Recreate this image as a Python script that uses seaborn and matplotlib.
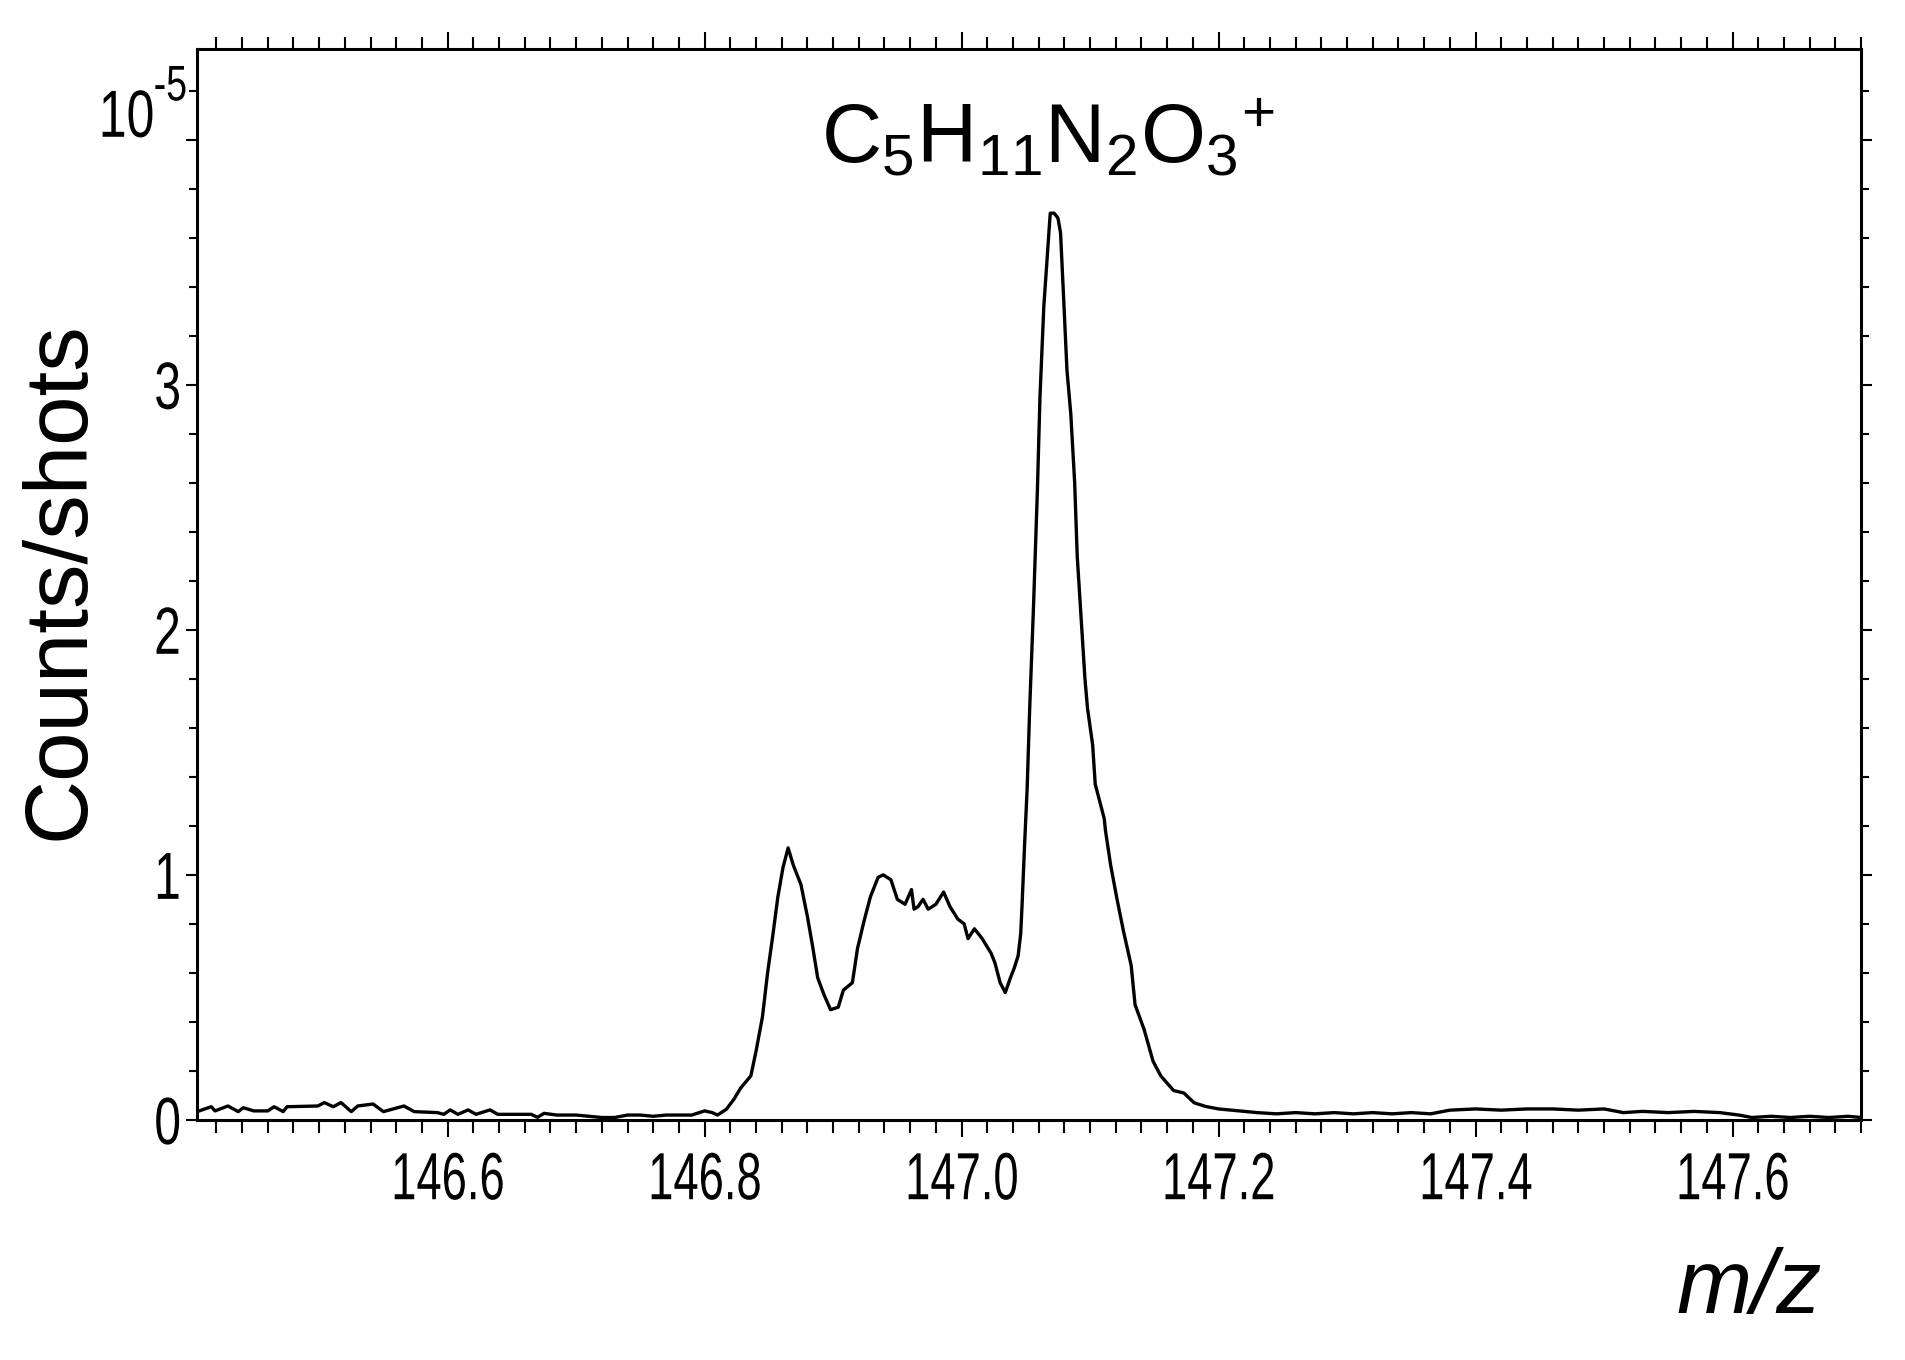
import numpy as np
import pandas as pd
import seaborn as sns
import matplotlib.pyplot as plt
from matplotlib.ticker import MultipleLocator
from matplotlib.patheffects import AbstractPathEffect
from matplotlib.transforms import Affine2D

# m/z axis values
mz = [146.405, 146.416, 146.419, 146.429, 146.437, 146.441, 146.449, 146.460, 146.465,
      146.472, 146.475, 146.499, 146.504, 146.511, 146.517, 146.525, 146.530, 146.542,
      146.550, 146.566, 146.574, 146.592, 146.597, 146.602, 146.608, 146.616, 146.622,
      146.633, 146.639, 146.665, 146.670, 146.675, 146.685, 146.700, 146.710, 146.720,
      146.730, 146.740, 146.750, 146.760, 146.770, 146.780, 146.790, 146.800, 146.806,
      146.810, 146.817,
      146.823, 146.828, 146.836, 146.840, 146.845, 146.849, 146.853, 146.857, 146.861,
      146.865, 146.869, 146.875, 146.880, 146.884, 146.888, 146.893, 146.898, 146.904,
      146.908, 146.915, 146.919, 146.924, 146.929, 146.935, 146.939, 146.945, 146.950,
      146.956, 146.961, 146.963, 146.966, 146.970, 146.974, 146.980, 146.986, 146.991,
      146.997, 147.002, 147.005, 147.010, 147.016, 147.023, 147.026, 147.030, 147.034,
      147.038, 147.041, 147.044, 147.046, 147.047, 147.049, 147.051, 147.053, 147.056,
      147.059, 147.061, 147.064, 147.067, 147.069, 147.072, 147.075, 147.077, 147.079,
      147.082, 147.085, 147.088, 147.090, 147.093, 147.096, 147.098, 147.102, 147.104,
      147.107, 147.111, 147.112, 147.116, 147.121, 147.126, 147.132, 147.135, 147.142,
      147.149, 147.155, 147.165, 147.173, 147.181,
      147.190, 147.200, 147.210, 147.220, 147.230, 147.245, 147.260, 147.275, 147.290,
      147.305, 147.320, 147.335, 147.350, 147.365, 147.380, 147.400, 147.420, 147.440,
      147.460, 147.480, 147.500, 147.515, 147.530, 147.550, 147.570, 147.590, 147.605,
      147.615, 147.630, 147.645, 147.660, 147.675, 147.690, 147.700]

# counts/shots in units of 1e-5
counts = [0.034, 0.054, 0.037, 0.057, 0.034, 0.050, 0.037, 0.037, 0.054,
          0.034, 0.054, 0.057, 0.071, 0.054, 0.071, 0.034, 0.057, 0.065,
          0.034, 0.057, 0.034, 0.030, 0.023, 0.041, 0.023, 0.041, 0.023,
          0.041, 0.023, 0.023, 0.011, 0.027, 0.020, 0.020, 0.015, 0.010,
          0.010, 0.020, 0.020, 0.015, 0.020, 0.020, 0.020, 0.037, 0.030,
          0.020, 0.044,
          0.086, 0.13, 0.18, 0.28, 0.42, 0.60, 0.75, 0.91, 1.03,
          1.11, 1.04, 0.96, 0.83, 0.71, 0.58, 0.51, 0.45, 0.46,
          0.53, 0.56, 0.70, 0.81, 0.91, 0.99, 1.00, 0.98, 0.90,
          0.88, 0.94, 0.86, 0.87, 0.90, 0.86, 0.88, 0.93, 0.87,
          0.82, 0.80, 0.74, 0.78, 0.74, 0.68, 0.64, 0.56, 0.52,
          0.58, 0.62, 0.67, 0.76, 0.87, 1.12, 1.35, 1.68, 2.10,
          2.57, 2.95, 3.32, 3.55, 3.70, 3.70, 3.68, 3.62, 3.40,
          3.06, 2.88, 2.60, 2.30, 2.05, 1.80, 1.68, 1.53, 1.37,
          1.31, 1.23, 1.18, 1.04, 0.90, 0.77, 0.63, 0.47, 0.37,
          0.24, 0.18, 0.12, 0.11, 0.07,
          0.055, 0.045, 0.040, 0.035, 0.030, 0.025, 0.030, 0.025, 0.030,
          0.025, 0.030, 0.025, 0.030, 0.025, 0.040, 0.045, 0.040, 0.045,
          0.045, 0.040, 0.045, 0.030, 0.035, 0.030, 0.035, 0.030, 0.020,
          0.010, 0.015, 0.010, 0.015, 0.010, 0.015, 0.010]

xtick_values = [146.6, 146.8, 147.0, 147.2, 147.4, 147.6]
ytick_values = [0, 1, 2, 3, 4]
ytick_labels = ['0', '1', '2', '3', '']


class Squeeze(AbstractPathEffect):
    """Draw text glyphs squeezed horizontally (narrow font look)."""
    def __init__(self, sx, anchor='center'):
        super().__init__()
        self.sx = sx
        self.anchor = anchor

    def draw_path(self, renderer, gc, tpath, affine, rgbFace=None):
        ext = tpath.get_extents()
        x0 = {'left': ext.x0, 'right': ext.x1}.get(self.anchor, (ext.x0 + ext.x1) / 2)
        t = Affine2D().translate(-x0, 0).scale(self.sx, 1).translate(x0, 0) + affine
        renderer.draw_path(gc, tpath, t, rgbFace)


spectrum_df = pd.DataFrame({'mz': mz, 'counts': counts})

sns.set_style('ticks')
plt.rcParams['font.family'] = ['Liberation Sans', 'DejaVu Sans']
plt.rcParams['mathtext.fontset'] = 'custom'
plt.rcParams['mathtext.rm'] = 'Liberation Sans'
plt.rcParams['mathtext.it'] = 'Liberation Sans:italic'
for key in ['text.color', 'axes.labelcolor', 'xtick.color', 'ytick.color', 'axes.edgecolor']:
    plt.rcParams[key] = 'black'

fig = plt.figure(figsize=(19.06, 13.6), dpi=100)
ax = fig.add_axes([0.1034, 0.1765, 0.873, 0.7875])

sns.lineplot(data=spectrum_df, x='mz', y='counts', color='black', lw=2.4,
             estimator=None, ax=ax)

ax.set_xlim(146.405, 147.70)
ax.set_ylim(0, 4.37)

#ticks on all four sides, pointing out
ax.set_xticks(xtick_values, [f'{v:.1f}' for v in xtick_values])
ax.xaxis.set_minor_locator(MultipleLocator(0.02))
ax.set_yticks(ytick_values, ytick_labels)
ax.yaxis.set_minor_locator(MultipleLocator(0.2))
ax.tick_params(axis='x', which='both', direction='out', top=True, bottom=True, width=1.5)
ax.tick_params(axis='x', which='major', length=12.5, pad=10, labelsize=48)
ax.tick_params(axis='x', which='minor', length=9)
ax.tick_params(axis='y', which='both', direction='out', left=True, right=True, width=1.5)
ax.tick_params(axis='y', which='major', length=8, pad=3, labelsize=48)
ax.tick_params(axis='y', which='minor', length=5.5)
for lab in ax.get_xticklabels():
    lab.set_path_effects([Squeeze(0.68)])
for lab in ax.get_yticklabels():
    lab.set_path_effects([Squeeze(0.72, 'right')])

for side in ['left', 'right', 'top', 'bottom']:
    ax.spines[side].set_visible(True)
    ax.spines[side].set_linewidth(2.2)

#exponent marker at top of y axis
ax.text(-0.0252, 0.918, '10', transform=ax.transAxes, ha='right', va='baseline',
        fontsize=48, path_effects=[Squeeze(0.75, 'right')])
ax.text(-0.0264, 0.952, '-5', transform=ax.transAxes, ha='left', va='baseline',
        fontsize=36, path_effects=[Squeeze(0.75, 'left')])

ax.text(0.511, 0.8945, r'C$_5$H$_{11}$N$_2$O$_{3}{}^{+}$', transform=ax.transAxes,
        ha='center', va='baseline', fontsize=60)

ax.set_ylabel('Counts/shots', fontsize=64)
ax.yaxis.label.set(va='center', rotation_mode='default')
ax.yaxis.set_label_coords(-0.0823, 0.504)

ax.set_xlabel('m/z', fontsize=65, style='italic')
ax.xaxis.label.set(va='baseline')
ax.xaxis.set_label_coords(0.9327, -0.180)

fig.savefig('out.png', dpi=100, facecolor='white')
